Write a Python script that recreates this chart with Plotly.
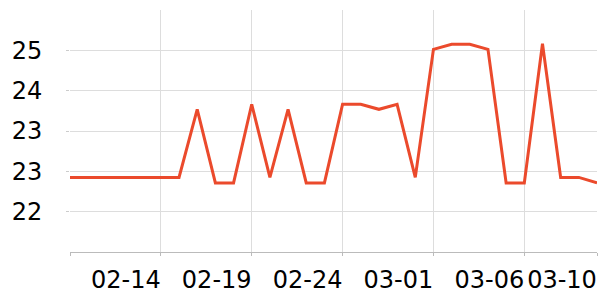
import plotly.graph_objects as go

dates = ["2023-02-09", "2023-02-10", "2023-02-11", "2023-02-12", "2023-02-13",
         "2023-02-14", "2023-02-15", "2023-02-16", "2023-02-17", "2023-02-18",
         "2023-02-19", "2023-02-20", "2023-02-21", "2023-02-22", "2023-02-23",
         "2023-02-24", "2023-02-25", "2023-02-26", "2023-02-27", "2023-02-28",
         "2023-03-01", "2023-03-02", "2023-03-03", "2023-03-04", "2023-03-05",
         "2023-03-06", "2023-03-07", "2023-03-08", "2023-03-09", "2023-03-10"]
values = [22.48, 22.48, 22.48, 22.48, 22.48, 22.48, 22.48, 23.83, 22.37, 22.37,
          23.93, 22.48, 23.83, 22.37, 22.37, 23.93, 23.93, 23.83, 23.93, 22.48,
          25.02, 25.12, 25.12, 25.02, 22.37, 22.37, 25.13, 22.48, 22.48, 22.37]

x_tick_vals = ["2023-02-09", "2023-02-14", "2023-02-19", "2023-02-24",
               "2023-03-01", "2023-03-06", "2023-03-10"]
x_tick_text = ["", "02-14", "02-19", "02-24", "03-01", "03-06", "03-10"]

y_tick_vals = [21.8, 22.6, 23.4, 24.2, 25.0]
y_tick_text = ["22", "23", "23", "24", "25"]

fig = go.Figure()
fig.add_trace(go.Scatter(
    x=dates, y=values, mode="lines",
    line=dict(color="#EB4A2C", width=3),
    hoverinfo="skip",
))

fig.update_layout(
    width=600, height=300,
    margin=dict(l=70, r=3, t=10, b=48),
    paper_bgcolor="white", plot_bgcolor="white",
    showlegend=False,
    font=dict(family="DejaVu Sans", size=24, color="#000000"),
)
fig.update_xaxes(
    type="date",
    range=["2023-02-09", "2023-03-10"],
    tickmode="array", tickvals=x_tick_vals, ticktext=x_tick_text,
    showgrid=True, gridcolor="#DDDDDD", gridwidth=1,
    showline=True, linecolor="#BBBBBB", linewidth=1,
    ticks="outside", ticklen=3, tickcolor="#BBBBBB",
    ticklabelshift=-35, ticklabelstandoff=3,
    zeroline=False,
)
fig.update_yaxes(
    range=[21.0, 25.8],
    tickmode="array", tickvals=y_tick_vals, ticktext=y_tick_text,
    showgrid=True, gridcolor="#DDDDDD", gridwidth=1,
    showline=False,
    ticks="outside", ticklen=3, tickcolor="#CCCCCC",
    ticklabelstandoff=19,
    zeroline=False,
)

fig.write_html("out.html")
